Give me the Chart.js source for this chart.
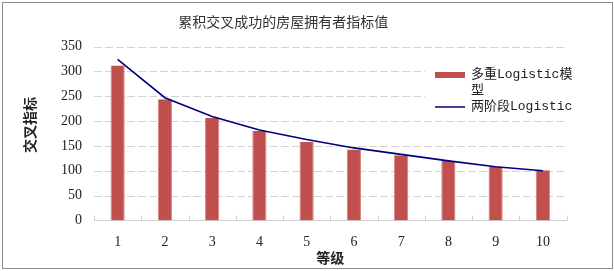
<!DOCTYPE html>
<html>
<head>
<meta charset="utf-8">
<script src="https://cdn.jsdelivr.net/npm/chart.js@4/dist/chart.umd.min.js"></script>
<style>
  html, body { margin: 0; padding: 0; background: #fff; }
  #wrap { position: relative; width: 614px; height: 271px; }
  #frame { position: absolute; left: 2px; top: 2px; width: 611px; height: 267px; box-sizing: border-box; border: 1px solid #8c8c8c; pointer-events: none; }
</style>
</head>
<body>
<div id="wrap">
  <canvas id="c" width="614" height="271"></canvas>
  <div id="frame"></div>
</div>
<script>
const chartTitle = '累积交叉成功的房屋拥有者指标值';
const categories = ['1', '2', '3', '4', '5', '6', '7', '8', '9', '10'];
const multiLogistic = [312, 244, 206, 180, 158, 143, 131, 120, 108, 101];
const twoStageLogistic = [324, 247, 209, 182, 163, 146, 133, 120, 108, 100];
const seriesNames = ['多重Logistic模型', '两阶段Logistic'];
const yTicks = [0, 50, 100, 150, 200, 250, 300, 350];
const xAxisTitle = '等级';
const yAxisTitle = '交叉指标';

const CJK = '"Noto Sans CJK SC", "Noto Sans", sans-serif';
const SERIF = '"Liberation Serif", "DejaVu Serif", serif';

const gridAndTicks = {
  id: 'gridAndTicks',
  beforeDatasetsDraw(chart) {
    const x = chart.scales.x;
    const y = chart.scales.y;
    const area = chart.chartArea;
    const ctx = chart.ctx;
    ctx.save();
    // dashed horizontal gridlines
    ctx.strokeStyle = '#d4d4d4';
    ctx.lineWidth = 1;
    ctx.setLineDash([8, 3]);
    y.ticks.forEach(t => {
      if (t.value === 0) return;
      const py = Math.round(y.getPixelForValue(t.value)) + 0.5;
      ctx.beginPath();
      ctx.moveTo(area.left, py);
      ctx.lineTo(area.right, py);
      ctx.stroke();
    });
    ctx.setLineDash([]);
    // small inside tick marks on category axis
    ctx.strokeStyle = '#d0d0d0';
    for (let i = 0; i <= categories.length; i++) {
      const px = Math.round(x.getPixelForValue(i - 0.5)) + 0.5;
      ctx.beginPath();
      ctx.moveTo(px, x.top - 5);
      ctx.lineTo(px, x.top);
      ctx.stroke();
    }
    ctx.restore();
  }
};

const customLegend = {
  id: 'customLegend',
  afterDraw(chart) {
    const ctx = chart.ctx;
    ctx.save();
    ctx.fillStyle = '#fff';
    ctx.fillRect(425, 56, 142, 61);
    ctx.font = '13px "Liberation Mono", "Noto Sans CJK SC", monospace';
    ctx.textBaseline = 'middle';
    const maxW = 106;
    const textX = 471;
    let y = 75;
    chart.data.datasets.forEach((ds) => {
      if (ds.type === 'line') {
        ctx.strokeStyle = ds.borderColor;
        ctx.lineWidth = 1.5;
        ctx.beginPath();
        ctx.moveTo(435, y);
        ctx.lineTo(465, y);
        ctx.stroke();
      } else {
        ctx.fillStyle = ds.backgroundColor;
        ctx.fillRect(435, y - 3, 30, 6);
      }
      ctx.fillStyle = '#222';
      const lines = [];
      let cur = '';
      for (const ch of ds.label) {
        if (ctx.measureText(cur + ch).width > maxW && cur) {
          lines.push(cur);
          cur = ch;
        } else cur += ch;
      }
      if (cur) lines.push(cur);
      lines.forEach((ln, k) => ctx.fillText(ln, textX, y + k * 16));
      y += lines.length * 16;
    });
    ctx.restore();
  }
};

new Chart(document.getElementById('c'), {
  data: {
    labels: categories,
    datasets: [
      {
        type: 'bar',
        label: seriesNames[0],
        data: multiLogistic,
        backgroundColor: '#C0504D',
        borderColor: '#D47F7C',
        borderWidth: { left: 1, right: 1, top: 0, bottom: 0 },
        barPercentage: 0.3,
        categoryPercentage: 1,
        order: 2
      },
      {
        type: 'line',
        label: seriesNames[1],
        data: twoStageLogistic,
        borderColor: '#00007F',
        backgroundColor: '#00007F',
        borderWidth: 1.6,
        pointRadius: 0,
        tension: 0,
        fill: false,
        order: 1
      }
    ]
  },
  options: {
    responsive: false,
    animation: false,
    events: [],
    layout: { padding: { left: 0, right: 47.5, top: 0, bottom: 0 } },
    plugins: {
      legend: { display: false },
      tooltip: { enabled: false },
      title: {
        display: true,
        text: chartTitle,
        color: '#333',
        font: { family: CJK, size: 14, weight: 'normal', lineHeight: 1.2 },
        padding: { top: 13.6, bottom: 16.1 }
      }
    },
    scales: {
      x: {
        offset: true,
        grid: { display: false, drawTicks: false },
        border: { display: true, color: '#d0d0d0', width: 1 },
        ticks: { color: '#222', font: { family: SERIF, size: 14 }, padding: 13, maxRotation: 0 },
        title: {
          display: true, text: xAxisTitle, color: '#222',
          font: { family: CJK, size: 14, weight: 'bold', lineHeight: 1.2 },
          padding: { top: 0, bottom: 4.6 }
        },
        afterFit(scale) { scale.height = 50.5; }
      },
      y: {
        min: 0, max: 350,
        afterBuildTicks(scale) { scale.ticks = yTicks.map(v => ({ value: v })); },
        grid: { display: false, drawTicks: false },
        border: { display: false },
        ticks: { color: '#222', font: { family: SERIF, size: 14 }, padding: 12 },
        title: {
          display: true, text: '　 ' + yAxisTitle, color: '#222',
          font: { family: CJK, size: 14, weight: 'bold', lineHeight: 1.2 },
          padding: { top: 21.6, bottom: 0 }
        },
        afterFit(scale) { scale.width = 94; }
      }
    }
  },
  plugins: [gridAndTicks, customLegend]
});
</script>
</body>
</html>
